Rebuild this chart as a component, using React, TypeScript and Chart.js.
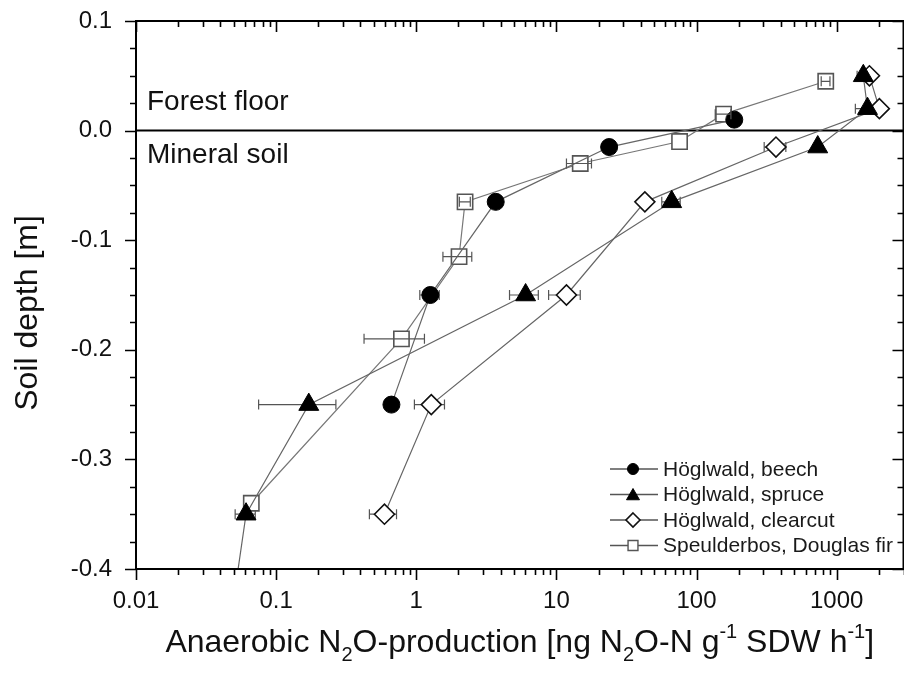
import React, { useEffect, useRef } from 'react';
import { Chart, registerables } from 'chart.js';

Chart.register(...registerables);

const FONT = "'Liberation Sans', Arial, Helvetica, sans-serif";

// ---------- data ----------
const seriesNames = ['Höglwald, beech', 'Höglwald, spruce', 'Höglwald, clearcut', 'Speulderbos, Douglas fir'];

const beechDepth = [0.01, -0.015, -0.065, -0.15, -0.25];
const beechN2O = [186, 23.8, 3.69, 1.26, 0.665];
const beechErr = [0, 0, 0, 0.2, 0];

const spruceDepth = [0.05, 0.02, -0.015, -0.065, -0.15, -0.25, -0.35, -0.45];
const spruceN2O = [1550, 1660, 733, 66.5, 6.03, 0.171, 0.061, 0.047];
const spruceErr = [150, 300, 0, 10, 1.4, 0.096, 0.01, 0];

const clearDepth = [0.05, 0.02, -0.015, -0.065, -0.15, -0.25, -0.35];
const clearN2O = [1714, 2018, 369, 42.8, 11.8, 1.28, 0.593];
const clearErr = [150, 0, 65, 0, 3, 0.31, 0.13];

const speulDepth = [0.045, 0.015, -0.01, -0.03, -0.065, -0.115, -0.19, -0.34];
const speulN2O = [836, 156, 75.7, 14.8, 2.23, 2.02, 0.784, 0.0665];
const speulErr = [60, 20, 0, 3, 0.2, 0.47, 0.36, 0];

const xTickValues = [0.01, 0.1, 1, 10, 100, 1000];
const xTickLabels = ['0.01', '0.1', '1', '10', '100', '1000'];
const yTickValues = [-0.4, -0.3, -0.2, -0.1, 0, 0.1];
const yTickLabels = ['-0.4', '-0.3', '-0.2', '-0.1', '0.0', '0.1'];
const xMin = 0.01;
const xMax = 3000;
const yMin = -0.4;
const yMax = 0.1;

const annotTop = 'Forest floor';
const annotBottom = 'Mineral soil';
const yTitle = 'Soil depth [m]';
// x title pieces: [text, kind] kind: n normal, sub, sup
const xTitleParts: [string, string][] = [
  ['Anaerobic N', 'n'], ['2', 'sub'], ['O-production [ng N', 'n'], ['2', 'sub'],
  ['O-N g', 'n'], ['-1', 'sup'], [' SDW h', 'n'], ['-1', 'sup'], [']', 'n'],
];

// ---------- styles ----------
type Sty = { style: string; radius: number; fill: string; stroke: string; lw: number; line: string; legR: number; errOnTop: boolean };
const styles: Sty[] = [
  { style: 'circle', radius: 8.5, fill: '#000', stroke: '#000', lw: 1, line: '#666', legR: 5.5, errOnTop: false },
  { style: 'triangle', radius: 11.5, fill: '#000', stroke: '#000', lw: 1, line: '#666', legR: 7.5, errOnTop: false },
  { style: 'rectRot', radius: 10, fill: '#fff', stroke: '#111', lw: 1.6, line: '#666', legR: 7, errOnTop: false },
  { style: 'rect', radius: 10.8, fill: '#fff', stroke: '#555', lw: 1.6, line: '#777', legR: 7, errOnTop: true },
];

const seriesDepth = [beechDepth, spruceDepth, clearDepth, speulDepth];
const seriesVal = [beechN2O, spruceN2O, clearN2O, speulN2O];
const seriesErr = [beechErr, spruceErr, clearErr, speulErr];

function drawMarker(ctx: CanvasRenderingContext2D, kind: string, x: number, y: number, r: number, fill: string, stroke: string, lw: number) {
  ctx.save();
  ctx.beginPath();
  if (kind === 'circle') {
    ctx.arc(x, y, r, 0, Math.PI * 2);
  } else if (kind === 'triangle') {
    ctx.moveTo(x, y - r);
    ctx.lineTo(x + r * Math.sin(Math.PI * 2 / 3), y + r / 2);
    ctx.lineTo(x - r * Math.sin(Math.PI * 2 / 3), y + r / 2);
    ctx.closePath();
  } else if (kind === 'rectRot') {
    ctx.moveTo(x, y - r);
    ctx.lineTo(x + r, y);
    ctx.lineTo(x, y + r);
    ctx.lineTo(x - r, y);
    ctx.closePath();
  } else {
    const s = r * Math.SQRT1_2;
    ctx.rect(x - s, y - s, 2 * s, 2 * s);
  }
  ctx.fillStyle = fill;
  ctx.fill();
  ctx.lineWidth = lw;
  ctx.strokeStyle = stroke;
  ctx.stroke();
  ctx.restore();
}

function drawErrors(chart: any, onTop: boolean) {
  const { ctx, scales } = chart;
  const xs = scales.x;
  const ys = scales.y;
  ctx.save();
  ctx.strokeStyle = '#555';
  ctx.lineWidth = 1.2;
  seriesErr.forEach((errs, si) => {
    if (styles[si].errOnTop !== onTop) return;
    errs.forEach((e, i) => {
      if (!e) return;
      const v = seriesVal[si][i];
      const d = seriesDepth[si][i];
      if (d < yMin) return;
      const x1 = xs.getPixelForValue(Math.max(v - e, xMin));
      const x2 = xs.getPixelForValue(v + e);
      const yy = ys.getPixelForValue(d);
      ctx.beginPath();
      ctx.moveTo(x1, yy); ctx.lineTo(x2, yy);
      ctx.moveTo(x1, yy - 5); ctx.lineTo(x1, yy + 5);
      ctx.moveTo(x2, yy - 5); ctx.lineTo(x2, yy + 5);
      ctx.stroke();
    });
  });
  ctx.restore();
}

const decorPlugin = {
  id: 'decor',
  beforeDatasetsDraw(chart: any) {
    const { ctx, chartArea: a, scales } = chart;
    const ys = scales.y;
    const y0 = ys.getPixelForValue(0);
    ctx.save();
    ctx.strokeStyle = '#000';
    ctx.lineWidth = 2;
    ctx.beginPath();
    ctx.moveTo(a.left, y0);
    ctx.lineTo(a.right, y0);
    ctx.stroke();
    ctx.fillStyle = '#111';
    ctx.font = `28px ${FONT}`;
    ctx.textAlign = 'left';
    ctx.textBaseline = 'alphabetic';
    ctx.fillText(annotTop, a.left + 11, y0 - 21);
    ctx.fillText(annotBottom, a.left + 11, y0 + 32);
    ctx.restore();
    drawErrors(chart, false);
  },
  afterDatasetsDraw(chart: any) {
    drawErrors(chart, true);
  },
  afterDraw(chart: any) {
    const { ctx, chartArea: a, scales } = chart;
    const xs = scales.x;
    const ys = scales.y;
    ctx.save();
    // frame
    ctx.strokeStyle = '#000';
    ctx.lineWidth = 2;
    ctx.strokeRect(a.left, a.top, a.right - a.left, a.bottom - a.top);
    // x ticks
    ctx.lineWidth = 1.6;
    ctx.beginPath();
    for (let e = -2; e <= 3; e++) {
      for (let m = 1; m <= 9; m++) {
        const v = m * Math.pow(10, e);
        if (v < xMin - 1e-12 || v > xMax) continue;
        const px = Math.round(xs.getPixelForValue(v)) + 0.5;
        const len = m === 1 ? 11 : 6;
        ctx.moveTo(px, a.bottom); ctx.lineTo(px, a.bottom + len);
        ctx.moveTo(px, a.top); ctx.lineTo(px, a.top + len);
      }
    }
    // y ticks
    for (let k = 0; k <= 20; k++) {
      const v = yMin + k * 0.025;
      const py = Math.round(ys.getPixelForValue(v)) + 0.5;
      const len = k % 4 === 0 ? 11 : 6;
      ctx.moveTo(a.left, py); ctx.lineTo(a.left - len, py);
      ctx.moveTo(a.right, py); ctx.lineTo(a.right - len, py);
    }
    ctx.stroke();

    // y title
    ctx.fillStyle = '#111';
    ctx.save();
    ctx.translate(37, 313);
    ctx.rotate(-Math.PI / 2);
    ctx.font = `32px ${FONT}`;
    ctx.textAlign = 'center';
    ctx.textBaseline = 'alphabetic';
    ctx.fillText(yTitle, 0, 0);
    ctx.restore();

    // x title with sub/superscripts
    const big = `32px ${FONT}`;
    const small = `20px ${FONT}`;
    let total = 0;
    xTitleParts.forEach(([t, k]) => {
      ctx.font = k === 'n' ? big : small;
      total += ctx.measureText(t).width;
    });
    let cx = (a.left + a.right) / 2 - total / 2;
    const base = 652;
    ctx.textAlign = 'left';
    ctx.textBaseline = 'alphabetic';
    xTitleParts.forEach(([t, k]) => {
      ctx.font = k === 'n' ? big : small;
      const dy = k === 'sub' ? 9 : k === 'sup' ? -14 : 0;
      ctx.fillText(t, cx, base + dy);
      cx += ctx.measureText(t).width;
    });

    // legend
    const rowY = [469, 494.5, 520, 545.5];
    seriesNames.forEach((name, i) => {
      const st = styles[i];
      const y = rowY[i];
      ctx.strokeStyle = '#555';
      ctx.lineWidth = 1.3;
      ctx.beginPath();
      ctx.moveTo(610, y); ctx.lineTo(658, y);
      ctx.stroke();
      const r = st.style === 'circle' ? 5.5 : st.legR;
      drawMarker(ctx, st.style, 633, st.style === 'triangle' ? y + 1.5 : y, r, st.fill, st.stroke, st.style === 'rect' ? 1.4 : st.lw);
      ctx.fillStyle = '#1a1a1a';
      ctx.font = `21px ${FONT}`;
      ctx.textAlign = 'left';
      ctx.textBaseline = 'middle';
      ctx.fillText(name, 663, y + 1);
    });
    ctx.restore();
  },
};

export default function App() {
  const ref = useRef<HTMLCanvasElement | null>(null);
  useEffect(() => {
    if (!ref.current) return;
    const datasets = seriesNames.map((name, i) => {
      const st = styles[i];
      return {
        label: name,
        data: seriesVal[i].map((v, j) => ({ x: v, y: seriesDepth[i][j] })),
        borderColor: st.line,
        borderWidth: 1.2,
        backgroundColor: st.fill,
        pointStyle: st.style,
        pointRadius: st.radius,
        pointBackgroundColor: st.fill,
        pointBorderColor: st.stroke,
        pointBorderWidth: st.lw,
        fill: false,
        tension: 0,
      };
    });
    const chart = new Chart(ref.current, {
      type: 'line',
      data: { datasets },
      options: {
        animation: false,
        responsive: false,
        devicePixelRatio: 1,
        events: [],
        layout: { padding: { top: 21, right: 8, left: 0, bottom: 0 } },
        plugins: { legend: { display: false }, tooltip: { enabled: false }, title: { display: false } },
        scales: {
          x: {
            type: 'logarithmic',
            min: xMin,
            max: xMax,
            bounds: 'data',
            grid: { display: false, drawTicks: false },
            border: { display: false },
            afterBuildTicks: (s: any) => { s.ticks = xTickValues.map((v) => ({ value: v })); },
            afterFit: (s: any) => { s.height = 105; s.paddingLeft = 0; s.paddingRight = 0; },
            ticks: {
              autoSkip: false,
              maxRotation: 0,
              padding: 18,
              color: '#111',
              font: { family: FONT, size: 24 },
              callback: (_v: any, i: number) => xTickLabels[i],
            },
          },
          y: {
            type: 'linear',
            min: yMin,
            max: yMax,
            grid: { display: false, drawTicks: false },
            border: { display: false },
            afterBuildTicks: (s: any) => { s.ticks = yTickValues.map((v) => ({ value: v })); },
            afterFit: (s: any) => { s.width = 136; s.paddingTop = 0; s.paddingBottom = 0; },
            ticks: {
              autoSkip: false,
              padding: 24,
              color: '#111',
              font: { family: FONT, size: 24 },
              callback: (_v: any, i: number) => yTickLabels[i],
            },
          },
        },
      } as any,
      plugins: [decorPlugin],
    });
    return () => chart.destroy();
  }, []);
  return (
    <div style={{ position: 'fixed', left: 0, top: 0, width: 904, height: 674, overflow: 'hidden', background: '#fff' }}>
      <canvas ref={ref} width={916} height={674} style={{ display: 'block' }} />
    </div>
  );
}
